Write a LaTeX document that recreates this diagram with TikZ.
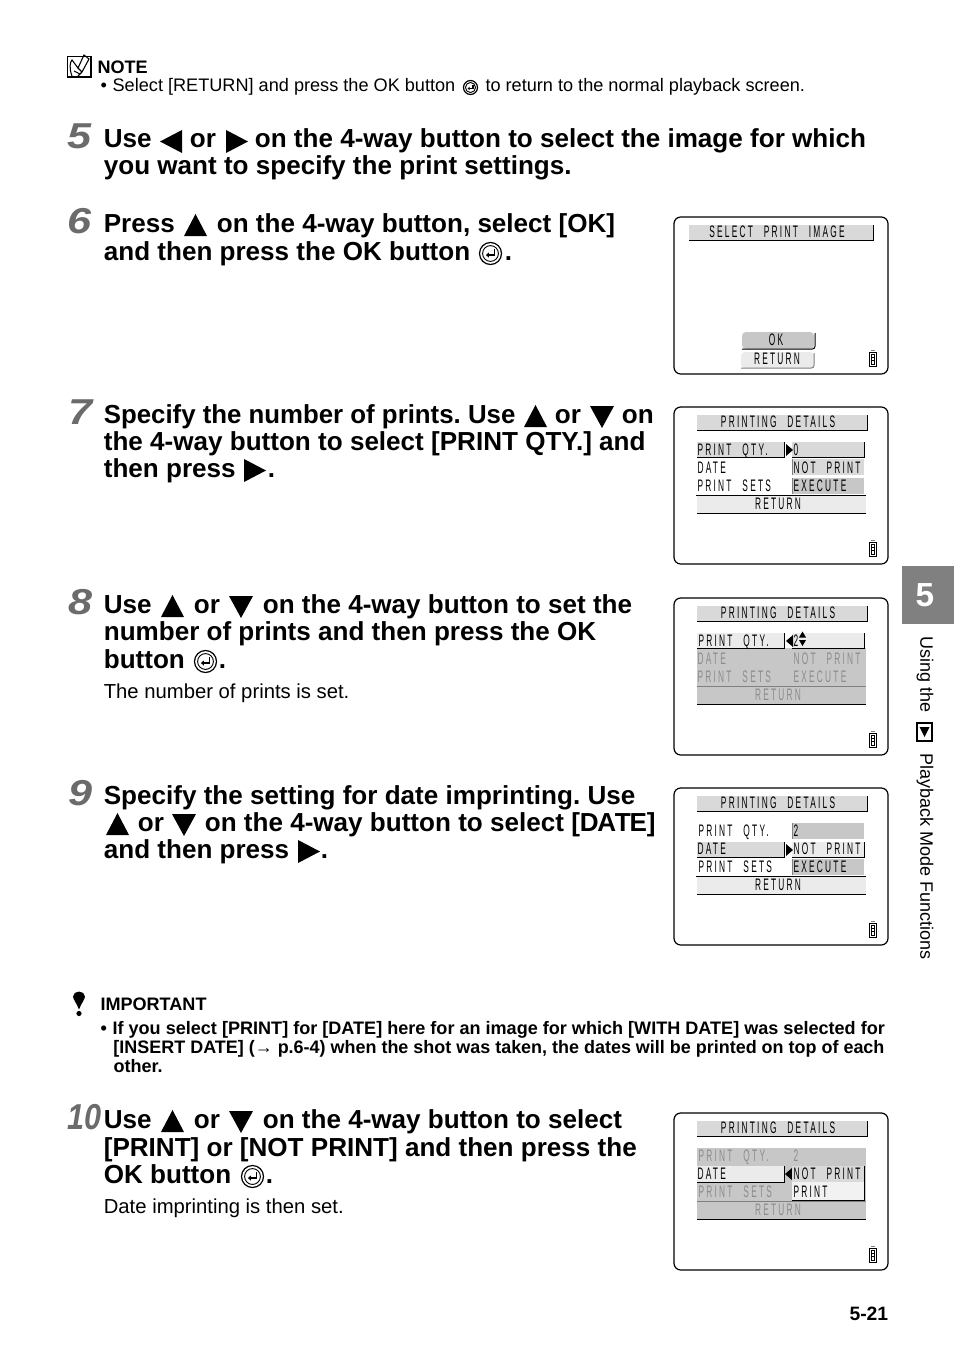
\documentclass[tikz,border=0pt]{standalone}
\usepackage{fontspec}
\setmainfont{Liberation Sans}
\newfontfamily\lcdfont[FakeStretch=0.5,LetterSpace=13.5,WordSpace=2.4]{Liberation Sans}
\definecolor{lcdlight}{gray}{0.92}
\definecolor{lcdmid}{gray}{0.85}
\definecolor{lcddark}{gray}{0.78}
\definecolor{lcddim}{gray}{0.55}
\definecolor{stepgray}{gray}{0.42}
\definecolor{tabgray}{gray}{0.5}

\tikzset{every picture/.style={line width=0.75pt}}
\tikzset{
  headtxt/.style={anchor=base west,inner sep=0pt,xshift=-0.5pt,yshift=0.75pt,font=\frenchspacing\fontsize{19.55}{24}\selectfont\bfseries},
  bodytxt/.style={anchor=base west,inner sep=0pt,font=\fontsize{13.6}{17}\selectfont},
  bigtxt/.style={anchor=base west,inner sep=0pt,xshift=-0.5pt,font=\fontsize{15.2}{18}\selectfont},
  boldtxt/.style={anchor=base west,inner sep=0pt,font=\fontsize{13.55}{17}\selectfont\bfseries},
  stepnum/.style={anchor=base west,inner sep=0pt,text=stepgray,font=\fontsize{27}{30}\selectfont\bfseries\itshape},
  lcdtxt/.style={anchor=base west,inner sep=0pt,font=\fontsize{12.5}{14}\lcdfont},
  lcdhead/.style={anchor=base,inner sep=0pt,font=\fontsize{12.5}{14}\lcdfont},
  tabtxt/.style={rotate=-90,anchor=west,inner sep=0pt,font=\fontsize{13.5}{16}\selectfont},
  lcdedge/.style={color=black,line width=0.75pt},
  frameline/.style={color=black,line width=0.9pt,rounded corners=5pt}
}
% big triangles: left edge, baseline
\newcommand{\uptri}[2]{\fill [line join=round] (#1,#2+3) -- (#1+23,#2+3) -- (#1+11.5,#2-19) -- cycle;}
\newcommand{\downtri}[2]{\fill (#1,#2-18) -- (#1+24,#2-18) -- (#1+12,#2+4) -- cycle;}
\newcommand{\righttri}[2]{\fill (#1,#2-19) -- (#1+22,#2-7.5) -- (#1,#2+4) -- cycle;}
\newcommand{\lefttri}[2]{\fill (#1+22,#2-19) -- (#1,#2-7.5) -- (#1+22,#2+4) -- cycle;}
% round OK button: centre, radius
\newcommand{\okbtn}[3]{
\draw [line width=0.9pt] (#1,#2) circle (#3);
\draw [line width=0.7pt] (#1,#2) circle (#3*0.72);
\draw [line width=1.1pt] (#1+#3*0.36,#2-#3*0.4) -- (#1+#3*0.36,#2+#3*0.14) -- (#1-#3*0.2,#2+#3*0.14);
\fill (#1-#3*0.42,#2+#3*0.14) -- (#1-#3*0.14,#2-#3*0.1) -- (#1-#3*0.14,#2+#3*0.38) -- cycle;
}
% lcd bar with dark right and bottom edge
\newcommand{\lcdbar}[5]{
\fill [#5] (#1,#2) rectangle (#3,#4);
\draw [lcdedge] (#3,#2) -- (#3,#4) -- (#1,#4);
}
% lcd screen frame and battery, local coordinates
\newcommand{\lcdframe}{
\draw [frameline] (0,0) rectangle (214,157);
\draw [line width=0.7pt] (195.5,135) rectangle (202,149);
\draw [line width=0.5pt] (197.5,137.5) rectangle (200,147);
\draw [line width=0.5pt] (197.5,140.5) -- (200,140.5) (197.5,143.5) -- (200,143.5);
\draw [line width=0.8pt,color=gray] (197,133.5) -- (200.5,133.5);
}
\newcommand{\lcdright}[2]{\fill (#1,#2-6) -- (#1+7,#2) -- (#1,#2+6) -- cycle;}
\newcommand{\lcdleft}[2]{\fill (#1+7,#2-6) -- (#1,#2) -- (#1+7,#2+6) -- cycle;}

\begin{document}
\begin{tikzpicture}[x=0.75pt,y=0.75pt,yscale=-1,xscale=1]
\useasboundingbox (0,0) rectangle (954,1352);
\fill [white] (0,0) rectangle (954,1352);

%Shape: Note icon
\draw [line width=1pt] (67.5,56.5) rectangle (91,77);
\draw [line width=0.8pt] (72,76) .. controls (69,68) and (70,62) .. (72,60) -- (78,68) -- (84,55) -- (89,59) -- (82,72) -- (78,76) ;
\draw [line width=0.8pt] (78,68) -- (82,72) ;
\draw [line width=0.8pt] (74,71) -- (80,74) ;
% Text Node
\draw (97,74) node [boldtxt] (notehead) {NOTE};
% Text Node
\draw (100,92) node [bodytxt] (noteone) {•\hspace{0.32em}Select [RETURN] and press the OK button};
\okbtn{470.5}{87.5}{7}
% Text Node
\draw (485,92) node [bodytxt] (notetwo) {to return to the normal playback screen.};

% Step 5
\draw (67,149) node [stepnum,xscale=1.2] (numfive) {5};
\draw (104,149) node [headtxt] (fivea) {Use};
\lefttri{160}{149}
\draw (190,149) node [headtxt] (fiveb) {or};
\righttri{226}{149}
\draw (255,149) node [headtxt] (fivec) {on the 4-way button to select the image for which};
\draw (104,176) node [headtxt] (fived) {you want to specify the print settings.};

% Step 6
\draw (67,233) node [stepnum,xscale=1.2] (numsix) {6};
\draw (104,233) node [headtxt] (sixa) {Press};
\uptri{184}{233}
\draw (217,233) node [headtxt] (sixb) {on the 4-way button, select [OK]};
\draw (104,261) node [headtxt] (sixc) {and then press the OK button};
\okbtn{490.5}{253.5}{11}
\draw (505,261) node [headtxt] (sixd) {.};

% Step 7
\draw (68,424) node [stepnum,xscale=1.2] (numseven) {7};
\draw (104,424) node [headtxt,xscale=0.99] (sevena) {Specify the number of prints. Use};
\uptri{524}{424}
\draw (555,424) node [headtxt] (sevenb) {or};
\downtri{590}{424}
\draw (622,424) node [headtxt] (sevenc) {on};
\draw (104,451) node [headtxt] (sevend) {the 4-way button to select [PRINT QTY.] and};
\draw (104,478) node [headtxt] (sevene) {then press};
\righttri{244}{478}
\draw (268,478) node [headtxt] (sevenf) {.};

% Step 8
\draw (68,614) node [stepnum,xscale=1.2] (numeight) {8};
\draw (104,614) node [headtxt] (eighta) {Use};
\uptri{161}{614}
\draw (194,614) node [headtxt] (eightb) {or};
\downtri{229}{614}
\draw (263,614) node [headtxt] (eightc) {on the 4-way button to set the};
\draw (104,641) node [headtxt] (eightd) {number of prints and then press the OK};
\draw (104,669) node [headtxt] (eighte) {button};
\okbtn{205.5}{661.5}{11}
\draw (219,669) node [headtxt] (eightf) {.};
\draw (104,698) node [bigtxt] (eightg) {The number of prints is set.};

% Step 9
\draw (68,805) node [stepnum,xscale=1.2] (numnine) {9};
\draw (104,805) node [headtxt] (ninea) {Specify the setting for date imprinting. Use};
\uptri{106}{832}
\draw (138,832) node [headtxt] (nineb) {or};
\downtri{172}{832}
\draw (205,832) node [headtxt] (ninec) {on the 4-way button to select [D\kern-.05em A\kern-.05em T\kern-.05em E]};
\draw (104,859) node [headtxt] (nined) {and then press};
\righttri{298}{859}
\draw (321,859) node [headtxt] (ninee) {.};

%Shape: Exclamation mark
\fill (79,1009.5) .. controls (77,1004) and (73,999) .. (73,996.5) .. controls (73,993.5) and (76,991.5) .. (79,991.5) .. controls (82,991.5) and (85,993.5) .. (85,996.5) .. controls (85,999) and (81,1004) .. (79,1009.5) -- cycle;
\fill (79,1013.5) circle (2.6);
% Text Node
\draw (100,1010) node [boldtxt] (imphead) {IMPORTANT};
\draw (100,1034) node [boldtxt] (impone) {•\hspace{0.32em}If you select [PRINT] for [DATE] here for an image for which [WITH DATE] was selected for};
\draw (113,1053) node [boldtxt,xscale=0.994] (imptwo) {[INSERT DATE] (→ p.6-4) when the shot was taken, the dates will be printed on top of each};
\draw (113,1072) node [boldtxt] (impthree) {other.};

% Step 10
\draw (67,1129) node [stepnum,xscale=0.85] (numten) {10};
\draw (104,1129) node [headtxt] (tena) {Use};
\uptri{161}{1129}
\draw (194,1129) node [headtxt] (tenb) {or};
\downtri{229}{1129}
\draw (263,1129) node [headtxt] (tenc) {on the 4-way button to select};
\draw (104,1157) node [headtxt] (tend) {[PRINT] or [NOT PRINT] and then press the};
\draw (104,1184) node [headtxt] (tene) {OK button};
\okbtn{252.5}{1176.5}{11}
\draw (266,1184) node [headtxt] (tenf) {.};
\draw (104,1213) node [bigtxt] (teng) {Date imprinting is then set.};

% Page number
\draw (849,1320) node [boldtxt,font=\fontsize{14.5}{17}\selectfont\bfseries] (pagenum) {5-21};

%Shape: Chapter tab
\fill [tabgray] (902,566) rectangle (954,624);
\draw (925,595) node [inner sep=0pt,text=white,font=\fontsize{25}{28}\selectfont\bfseries] (tabnum) {5};
\draw (925,636) node [tabtxt] (tabone) {Using the};
\draw [line width=1.2pt] (917,723) rectangle (932,741);
\fill (919.5,727) -- (929.5,727) -- (924.5,737) -- cycle;
\draw (925,753) node [tabtxt] (tabtwo) {Playback Mode Functions};

%Screen 1
\begin{scope}[shift={(674,217)}]
\lcdframe
\lcdbar{15}{8}{199}{23}{lcdmid}
\draw (103,20.5) node [lcdhead] (selhead) {SELECT PRINT IMAGE};
\fill [lcddark,rounded corners=3pt] (68,115) rectangle (140,132);
\draw [lcdedge,rounded corners=2pt] (141,116) -- (141,132) -- (68,132);
\draw (102,128) node [lcdhead] (selok) {OK};
\fill [lcdlight,rounded corners=3pt] (67,135) rectangle (140,151);
\draw [lcdedge,color=gray,rounded corners=2pt] (140,136) -- (140,151) -- (67,151);
\draw (103,147.5) node [lcdhead] (selret) {RETURN};
\end{scope}

%Screen 2
\begin{scope}[shift={(674,407)}]
\lcdframe
\lcdbar{23}{8}{193}{23}{lcdmid}
\draw (104,20.5) node [lcdhead] (onehead) {PRINTING DETAILS};
\lcdbar{23}{35}{110}{50}{lcdmid}
\lcdbar{118}{35}{190}{50}{lcdmid}
\lcdright{112}{43}
\fill [lcdmid] (118,52) rectangle (190,68);
\fill [lcddark] (118,71) rectangle (190,87);
\draw [lcdedge,color=gray] (118,52) -- (118,68) (118,71) -- (118,87);
\fill [lcdlight] (23,89) rectangle (192,106);
\draw [lcdedge] (22,88.5) -- (192,88.5) (192,106) -- (23,106);
\draw (23,48) node [lcdtxt] (oneqty) {PRINT QTY.};
\draw (119,48) node [lcdtxt] (oneval) {0};
\draw (23,66) node [lcdtxt] (onedate) {DATE};
\draw (119,66) node [lcdtxt] (onenot) {NOT PRINT};
\draw (23,84) node [lcdtxt] (onesets) {PRINT SETS};
\draw (119,84) node [lcdtxt] (oneexe) {EXECUTE};
\draw (104,102) node [lcdhead] (oneret) {RETURN};
\end{scope}

%Screen 3
\begin{scope}[shift={(674,598)}]
\lcdframe
\lcdbar{23}{8}{193}{23}{lcdmid}
\draw (104,20.5) node [lcdhead] (twohead) {PRINTING DETAILS};
\fill [lcddark] (23,50) rectangle (192,106);
\draw [lcdedge] (192,106) -- (23,106);
\draw [lcdedge,color=gray] (23,88.5) -- (192,88.5);
\lcdbar{23}{35}{110}{50}{lcdlight}
\lcdbar{118}{35}{190}{50}{lcdlight}
\lcdleft{112}{43}
\fill (125,39.5) -- (132,39.5) -- (128.5,33.5) -- cycle;
\fill (125,42) -- (132,42) -- (128.5,48) -- cycle;
\draw (24,48) node [lcdtxt] (twoqty) {PRINT QTY.};
\draw (119,48) node [lcdtxt] (twoval) {2};
\draw (23,66) node [lcdtxt,text=lcddim] (twodate) {DATE};
\draw (119,66) node [lcdtxt,text=lcddim] (twonot) {NOT PRINT};
\draw (23,84) node [lcdtxt,text=lcddim] (twosets) {PRINT SETS};
\draw (119,84) node [lcdtxt,text=lcddim] (twoexe) {EXECUTE};
\draw (104,102) node [lcdhead,text=lcddim] (tworet) {RETURN};
\end{scope}

%Screen 4
\begin{scope}[shift={(674,788)}]
\lcdframe
\lcdbar{23}{8}{193}{23}{lcdmid}
\draw (104,20.5) node [lcdhead] (threehead) {PRINTING DETAILS};
\fill [lcddark] (118,35) rectangle (190,51);
\draw [lcdedge,color=gray] (118,35) -- (118,51);
\lcdbar{23}{54}{110}{69}{lcdmid}
\lcdbar{118}{54}{190}{69}{lcdlight}
\lcdright{112}{62}
\fill [lcddark] (118,71) rectangle (190,87);
\draw [lcdedge,color=gray] (118,71) -- (118,87);
\fill [lcdlight] (23,89) rectangle (192,106);
\draw [lcdedge] (22,88.5) -- (192,88.5) (192,106) -- (23,106);
\draw (24,48) node [lcdtxt] (threeqty) {PRINT QTY.};
\draw (119,48) node [lcdtxt] (threeval) {2};
\draw (23,66) node [lcdtxt] (threedate) {DATE};
\draw (119,66) node [lcdtxt] (threenot) {NOT PRINT};
\draw (24,84) node [lcdtxt] (threesets) {PRINT SETS};
\draw (119,84) node [lcdtxt] (threeexe) {EXECUTE};
\draw (104,102) node [lcdhead] (threeret) {RETURN};
\end{scope}

%Screen 5
\begin{scope}[shift={(674,1113)}]
\lcdframe
\lcdbar{23}{8}{193}{23}{lcdmid}
\draw (104,20.5) node [lcdhead] (fourhead) {PRINTING DETAILS};
\fill [lcddark] (23,35) rectangle (192,106);
\draw [lcdedge] (192,106) -- (23,106);
\draw [lcdedge,color=gray] (23,88.5) -- (192,88.5);
\lcdbar{23}{53}{110}{69}{lcdlight}
\fill [lcddark] (111,53) rectangle (118,69);
\lcdleft{111}{61}
\fill [lcdmid] (118,53) rectangle (190,69);
\fill [white!95!black] (118,69) rectangle (190,87);
\draw [lcdedge] (190,53) -- (190,87) -- (118,87);
\draw (24,48) node [lcdtxt,text=lcddim] (fourqty) {PRINT QTY.};
\draw (119,48) node [lcdtxt,text=lcddim] (fourval) {2};
\draw (23,66) node [lcdtxt] (fourdate) {DATE};
\draw (119,66) node [lcdtxt] (fournot) {NOT PRINT};
\draw (24,84) node [lcdtxt,text=lcddim] (foursets) {PRINT SETS};
\draw (119,84) node [lcdtxt] (fourpri) {PRINT};
\draw (104,102) node [lcdhead,text=lcddim] (fourret) {RETURN};
\end{scope}

\end{tikzpicture}
\end{document}
